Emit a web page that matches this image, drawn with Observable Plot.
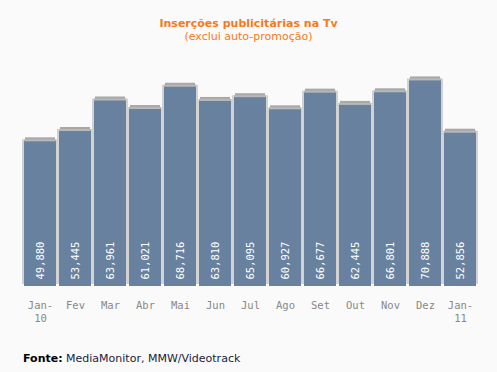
<!DOCTYPE html>
<html><head><meta charset="utf-8">
<script src="https://cdn.jsdelivr.net/npm/d3@7"></script>
<script src="https://cdn.jsdelivr.net/npm/@observablehq/plot@0.6"></script>
<style>
html,body{margin:0;padding:0;background:#fafafa;width:497px;height:372px;overflow:hidden}
#title{font:bold 11px "DejaVu Sans",sans-serif;color:#f47a20;text-align:center;padding-top:17px;line-height:13px}
#sub{font:11px "DejaVu Sans",sans-serif;color:#f47a20;text-align:center;line-height:13px}
#chart{height:282px;margin-top:5px}
#foot{font:11px "DejaVu Sans",sans-serif;color:#1a1a3a;padding-left:23px;padding-top:22px}
#foot b{color:#000}
</style></head><body>
<div id="title">Inserções publicitárias na Tv</div>
<div id="sub">(exclui auto-promoção)</div>
<div id="chart"></div>
<div id="foot"><b>Fonte:</b> MediaMonitor, MMW/Videotrack</div>
<script>
const months = ["Jan-\n10","Fev","Mar","Abr","Mai","Jun","Jul","Ago","Set","Out","Nov","Dez","Jan-\n11"];
const values = [49880,53445,63961,61021,68716,63810,65095,60927,66677,62445,66801,70888,52856];
const data = months.map((m,i)=>({m, v: values[i]}));
const fmt = d3.format(",");
const plot = Plot.plot({
  width: 497, height: 282,
  marginLeft: 19, marginRight: 16, marginTop: 6, marginBottom: 44,
  style: {background: "transparent", fontFamily: "DejaVu Sans Mono, monospace"},
  x: {domain: months, padding: 0.09, label: null},
  y: {domain: [0, 80000], axis: null},
  marks: [
    Plot.barY(data, {x: "m", y: "v", fill: "#d2d2d2", insetLeft: -2, insetRight: -2, dy: -2}),
    Plot.barY(data, {x: "m", y: "v", fill: "#a8a8a8", insetLeft: 1, insetRight: 1, dy: -4}),
    Plot.barY(data, {x: "m", y: "v", fill: "#b8b8b8", insetLeft: 0, insetRight: 0, dy: -2}),
    Plot.barY(data, {x: "m", y: "v", fill: "#67819f"}),
    Plot.text(data, {x: "m", y: 0, text: d => fmt(d.v), rotate: -90, textAnchor: "start", dy: -7, fill: "white", fontSize: 10.5}),
    Plot.axisX({tickSize: 0, tickPadding: 14, fontSize: 10.5, lineHeight: 1.2, color: "#888", label: null})
  ]
});
document.getElementById("chart").appendChild(plot);
</script>
</body></html>
